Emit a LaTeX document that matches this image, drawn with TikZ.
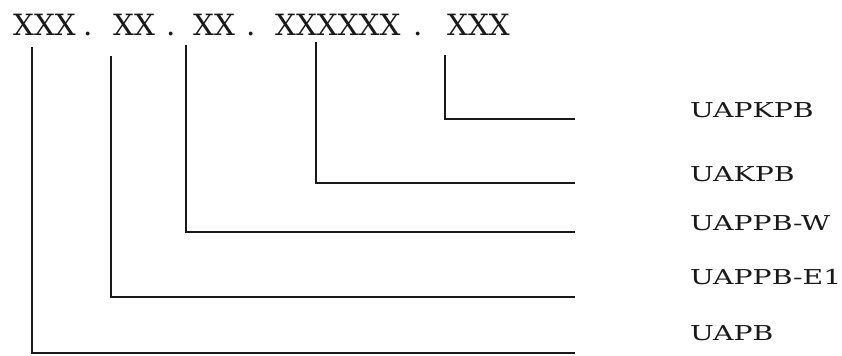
\documentclass[tikz,border=0pt]{standalone}
\usepackage{fontspec}
\setmainfont{DejaVu Serif}
\newfontfamily\codefont{DejaVu Serif}
\newfontfamily\fieldfont[FakeStretch=1.38]{DejaVu Serif}
\usepackage{tikz}
\definecolor{inkdark}{RGB}{25,25,25}
\tikzset{
  codepart/.style={inner sep=0pt, anchor=base west, text=inkdark,
    font=\codefont\fontsize{25}{30}\selectfont},
  fieldlabel/.style={inner sep=0pt, anchor=base west, text=inkdark,
    font=\fieldfont\fontsize{17.5}{21}\selectfont},
  leader/.style={line width=1.4pt, color=inkdark}
}

\begin{document}
\begin{tikzpicture}[x=0.03cm, y=-0.03cm]
  \useasboundingbox (0,0) rectangle (842,355);

  % Code string
  \node[codepart] (seg1) at (13,35) {XXX};
  \node[codepart] (dot1) at (83,35) {.};
  \node[codepart] (seg2) at (113,35) {XX};
  \node[codepart] (dot2) at (166,35) {.};
  \node[codepart] (seg3) at (193,35) {XX};
  \node[codepart] (dot3) at (246,35) {.};
  \node[codepart] (seg4) at (275,35) {XXXXXX};
  \node[codepart] (dot4) at (413,35) {.};
  \node[codepart] (seg5) at (447,35) {XXX};

  % Start of each leader under the code
  \coordinate (t1) at (32,47);
  \coordinate (t2) at (111,56);
  \coordinate (t3) at (186,45);
  \coordinate (t4) at (316,42);
  \coordinate (t5) at (445,55);

  % End of each leader
  \coordinate (e1) at (575,353);
  \coordinate (e2) at (575,297);
  \coordinate (e3) at (575,232);
  \coordinate (e4) at (575,183);
  \coordinate (e5) at (575,119);

  % Leaders
  \draw[leader] (t1) |- (e1);
  \draw[leader] (t2) |- (e2);
  \draw[leader] (t3) |- (e3);
  \draw[leader] (t4) |- (e4);
  \draw[leader] (t5) |- (e5);

  % Field names
  \node[fieldlabel] (lab5) at (690,117) {UAPKPB};
  \node[fieldlabel] (lab4) at (690,181) {UAKPB};
  \node[fieldlabel] (lab3) at (690,230) {UAPPB-W};
  \node[fieldlabel] (lab2) at (690,284) {UAPPB-E1};
  \node[fieldlabel] (lab1) at (690,340) {UAPB};
\end{tikzpicture}
\end{document}
